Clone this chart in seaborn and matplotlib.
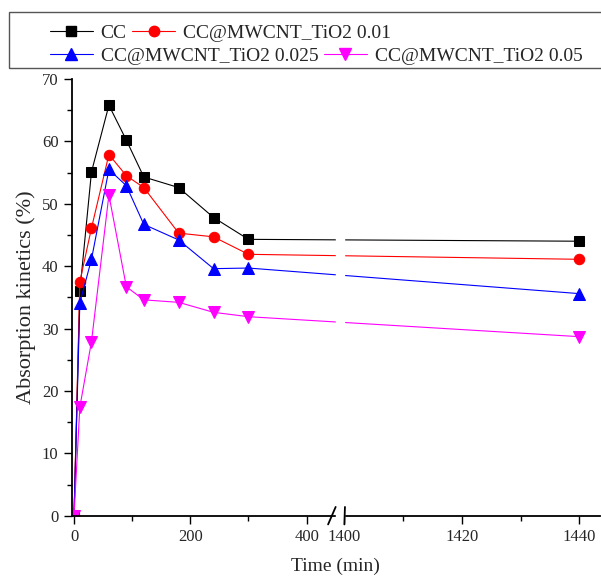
import numpy as np
import pandas as pd
import matplotlib
matplotlib.use("Agg")
import matplotlib.pyplot as plt
from matplotlib.patches import Rectangle
from matplotlib.lines import Line2D
import seaborn as sns

# data
time_min = [0, 10, 30, 60, 90, 120, 180, 240, 300, 1440]
cc = [0, 36.0, 55.1, 65.8, 60.2, 54.3, 52.6, 47.8, 44.3, 44.0]
cc_001 = [0, 37.5, 46.1, 57.9, 54.5, 52.6, 45.3, 44.7, 41.9, 41.1]
cc_0025 = [0, 34.1, 41.1, 55.5, 52.9, 46.7, 44.2, 39.6, 39.7, 35.6]
cc_005 = [0, 17.4, 27.9, 51.4, 36.7, 34.6, 34.2, 32.6, 31.9, 28.7]

labels = ["CC", "CC@MWCNT_TiO2 0.01", "CC@MWCNT_TiO2 0.025", "CC@MWCNT_TiO2 0.05"]
series = [cc, cc_001, cc_0025, cc_005]
colors = ["black", "red", "blue", "magenta"]
markers = ["s", "o", "^", "v"]
msizes = [7, 7.5, 8, 8]

sns.set_style("ticks")
plt.rcParams["font.family"] = ["Liberation Serif", "DejaVu Serif"]

fig = plt.figure(figsize=(6.01, 5.76), dpi=100)
ax = fig.add_axes([0.1193, 0.1047, 0.8787, 0.7581])

for lab, vals, col, mk, ms in zip(labels, series, colors, markers, msizes):
    df = pd.DataFrame({"t": time_min, "v": vals})
    sns.lineplot(data=df, x="t", y="v", color=col, marker=mk, markersize=ms,
                 markeredgecolor=col, linewidth=0.8, ax=ax, label=lab, legend=False)


# broken x axis: 0-450 then 1400-1443 stretched
def fwd(x):
    x = np.asarray(x, dtype=float)
    return np.where(x <= 450, x,
                    np.where(x >= 1400, 465 + (x - 1400) * 10.1,
                             450 + (x - 450) * 15 / 950))


def inv(y):
    y = np.asarray(y, dtype=float)
    return np.where(y <= 450, y,
                    np.where(y >= 465, 1400 + (y - 465) / 10.1,
                             450 + (y - 450) * 950 / 15))


ax.set_xscale("function", functions=(fwd, inv))
ax.set_xlim(-4, 1443.5)
ax.set_ylim(0, 70)
ax.set_xticks([0, 200, 400, 1400, 1420, 1440])
ax.set_xticks([100, 300, 1410, 1430], minor=True)
ax.set_xticklabels(["0", "200", "400", "1400", "1420", "1440"])
ax.set_yticks(np.arange(0, 71, 10))
ax.set_yticks(np.arange(5, 70, 10), minor=True)
ax.tick_params(which="major", direction="out", length=6, width=1, labelsize=12, color="black")
ax.tick_params(which="minor", direction="out", length=3.5, width=1, color="black")
sns.despine(ax=ax, top=True, right=True)
for s in ["left", "bottom"]:
    ax.spines[s].set_linewidth(1.3)
    ax.spines[s].set_color("black")

ax.set_xlabel("Time (min)", fontsize=14, labelpad=9)
ax.set_ylabel("Absorption kinetics (%)", fontsize=16, labelpad=4)

# gap + break marks
ax.axvspan(452, 1399, ymin=-0.02, ymax=1, color="white", zorder=5, clip_on=False)
trans = matplotlib.transforms.blended_transform_factory(ax.transData, ax.transAxes)
for xb, d in [(444, 7), (1399.4, 0.7)]:
    ax.plot([xb - d, xb + d], [-0.02, 0.02], color="black", lw=1.3,
            transform=trans, clip_on=False, zorder=6)

# legend: two rows inside one frame above the axes
fig.patches.append(Rectangle((9 / 601, 1 - 67.7 / 576), 1.0, 55.4 / 576,
                             transform=fig.transFigure, fill=False,
                             edgecolor="#555555", linewidth=1.0))
handles = [Line2D([], [], color=c, marker=m, markersize=ms, linewidth=0.8)
           for c, m, ms in zip(colors, markers, msizes)]
leg_kw = dict(ncol=2, frameon=False, fontsize=14, handlelength=2.2,
              handletextpad=0.4, columnspacing=0.3, borderpad=0, borderaxespad=0)
leg1 = fig.legend(handles[:2], labels[:2], loc="center left",
                  bbox_to_anchor=(50 / 601, 1 - 33 / 576), **leg_kw)
leg2 = fig.legend(handles[2:], labels[2:], loc="center left",
                  bbox_to_anchor=(50 / 601, 1 - 56.5 / 576), **leg_kw)

fig.savefig("out.png", dpi=100)
